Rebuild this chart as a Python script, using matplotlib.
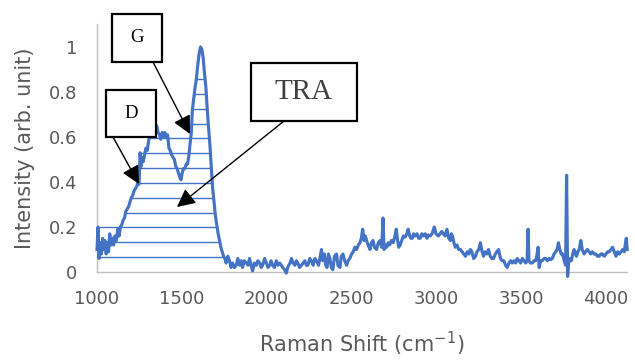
import numpy as np
import matplotlib.pyplot as plt
from matplotlib.patches import Rectangle

BLUE = "#4472C4"; AXIS = "#BFBFBF"; LABEL = "#595959"

# Raman spectrum (normalised)
shift = [1000, 1006, 1012, 1019, 1026, 1033, 1040, 1047, 1054, 1061, 1068, 1075, 1082, 1090, 1098,
         1106, 1114, 1122, 1130, 1138, 1146, 1154, 1162, 1170, 1178, 1186, 1194, 1202, 1210, 1218,
         1226, 1234, 1242, 1248, 1254, 1260, 1266, 1272, 1280, 1288, 1296, 1304, 1312, 1320, 1328,
         1336, 1344, 1352, 1360, 1368, 1376, 1384, 1392, 1400, 1408, 1416, 1424, 1432, 1440, 1448,
         1456, 1464, 1472, 1480, 1488, 1495, 1502, 1510, 1518, 1526, 1534, 1542, 1550, 1556, 1562,
         1570, 1578, 1586, 1594, 1602, 1610, 1618, 1626, 1634, 1642, 1650, 1658, 1666, 1674, 1682,
         1690, 1698, 1706, 1714, 1722, 1730, 1738, 1746, 1754, 1761, 1771, 1781, 1790, 1799, 1810,
         1821, 1830, 1840, 1850, 1858, 1868, 1880, 1890, 1899, 1908, 1917, 1928, 1939, 1948, 1959,
         1968, 1976, 1988, 1998, 2008, 2018, 2026, 2035, 2046, 2057, 2066, 2077, 2086, 2095, 2106,
         2116, 2124, 2130, 2138, 2146, 2156, 2166, 2175, 2183, 2194, 2205, 2215, 2225, 2234, 2243,
         2254, 2264, 2274, 2284, 2294, 2306, 2314, 2323, 2331, 2340, 2348, 2356, 2364, 2373, 2381,
         2390, 2400, 2412, 2420, 2432, 2440, 2450, 2460, 2471, 2480, 2490, 2501, 2510, 2520, 2530,
         2540, 2550, 2558, 2566, 2574, 2582, 2589, 2598, 2609, 2618, 2627, 2636, 2648, 2658, 2669,
         2678, 2686, 2692, 2700, 2708, 2716, 2725, 2735, 2746, 2756, 2764, 2770, 2778, 2787, 2796,
         2806, 2817, 2826, 2834, 2843, 2850, 2858, 2866, 2876, 2886, 2896, 2905, 2915, 2925, 2935,
         2945, 2953, 2964, 2975, 2988, 2998, 3012, 3022, 3032, 3041, 3052, 3063, 3073, 3083, 3089,
         3095, 3104, 3112, 3122, 3132, 3142, 3152, 3162, 3172, 3182, 3192, 3201, 3210, 3220, 3231,
         3240, 3250, 3260, 3270, 3278, 3288, 3298, 3308, 3318, 3328, 3337, 3348, 3357, 3367, 3378,
         3389, 3398, 3408, 3418, 3428, 3438, 3448, 3458, 3468, 3477, 3487, 3497, 3507, 3517, 3527,
         3535, 3541, 3546, 3555, 3566, 3576, 3586, 3594, 3600, 3606, 3615, 3625, 3635, 3645, 3655,
         3665, 3674, 3684, 3694, 3704, 3712, 3720, 3728, 3736, 3744, 3754, 3762, 3768, 3774, 3780,
         3788, 3796, 3804, 3812, 3820, 3826, 3834, 3842, 3852, 3860, 3871, 3880, 3890, 3901, 3910,
         3920, 3930, 3940, 3950, 3960, 3970, 3980, 3990, 4000, 4010, 4019, 4030, 4039, 4049, 4059,
         4069, 4079, 4089, 4099, 4108, 4115, 4120, 4125]
intensity = [0.10, 0.20, 0.06, 0.13, 0.08, 0.15, 0.10, 0.14, 0.08, 0.13, 0.09, 0.17, 0.12, 0.15, 0.12,
             0.16, 0.14, 0.19, 0.16, 0.20, 0.21, 0.23, 0.24, 0.27, 0.28, 0.29, 0.31, 0.33, 0.34, 0.36,
             0.37, 0.38, 0.40, 0.39, 0.53, 0.47, 0.51, 0.49, 0.52, 0.55, 0.54, 0.58, 0.62, 0.60, 0.63,
             0.62, 0.64, 0.65, 0.62, 0.61, 0.59, 0.62, 0.60, 0.62, 0.60, 0.61, 0.55, 0.54, 0.52, 0.51,
             0.50, 0.47, 0.46, 0.44, 0.42, 0.41, 0.44, 0.46, 0.46, 0.48, 0.48, 0.52, 0.58, 0.62, 0.72,
             0.77, 0.82, 0.86, 0.92, 0.97, 1.00, 0.99, 0.95, 0.88, 0.82, 0.72, 0.64, 0.56, 0.46, 0.37,
             0.31, 0.25, 0.21, 0.17, 0.14, 0.11, 0.09, 0.07, 0.06, 0.04, 0.07, 0.05, 0.02, 0.04, 0.02,
             0.03, 0.06, 0.03, 0.05, 0.02, 0.05, 0.04, 0.03, 0.06, 0.03, 0.005, 0.04, 0.03, 0.05, 0.04,
             0.02, 0.03, 0.06, 0.04, 0.02, 0.03, 0.05, 0.03, 0.02, 0.05, 0.03, 0.04, 0.03, 0.02, 0.01,
             -0.005, 0.02, 0.03, 0.04, 0.06, 0.04, 0.03, 0.05, 0.04, 0.02, 0.03, 0.04, 0.05, 0.03, 0.03,
             0.06, 0.05, 0.03, 0.06, 0.05, 0.03, 0.06, 0.10, 0.05, 0.08, 0.03, 0.02, 0.08, 0.06, 0.02,
             0.01, 0.07, 0.08, 0.03, 0.02, 0.07, 0.08, 0.05, 0.03, 0.05, 0.06, 0.08, 0.09, 0.11, 0.10,
             0.12, 0.13, 0.15, 0.19, 0.14, 0.16, 0.14, 0.12, 0.10, 0.13, 0.14, 0.11, 0.10, 0.13, 0.14,
             0.11, 0.24, 0.10, 0.12, 0.11, 0.13, 0.12, 0.14, 0.13, 0.16, 0.19, 0.15, 0.11, 0.12, 0.14,
             0.16, 0.155, 0.17, 0.19, 0.16, 0.15, 0.15, 0.17, 0.16, 0.17, 0.15, 0.15, 0.17, 0.16, 0.17,
             0.15, 0.165, 0.16, 0.17, 0.20, 0.17, 0.16, 0.17, 0.18, 0.17, 0.16, 0.19, 0.15, 0.14, 0.17,
             0.16, 0.13, 0.11, 0.12, 0.10, 0.10, 0.09, 0.08, 0.07, 0.09, 0.08, 0.10, 0.09, 0.06, 0.07,
             0.09, 0.10, 0.13, 0.09, 0.07, 0.09, 0.08, 0.10, 0.07, 0.06, 0.06, 0.08, 0.09, 0.10, 0.06,
             0.05, 0.05, 0.03, 0.02, 0.04, 0.05, 0.04, 0.05, 0.04, 0.06, 0.05, 0.04, 0.06, 0.05, 0.04,
             0.05, 0.19, 0.05, 0.04, 0.04, 0.05, 0.05, 0.08, 0.11, 0.02, 0.05, 0.05, 0.06, 0.06, 0.05,
             0.06, 0.055, 0.06, 0.08, 0.09, 0.10, 0.13, 0.10, 0.08, 0.08, 0.05, 0.03, 0.43, -0.02, 0.04,
             0.06, 0.05, 0.08, 0.10, 0.08, 0.07, 0.09, 0.10, 0.14, 0.10, 0.08, 0.09, 0.10, 0.09, 0.08,
             0.09, 0.08, 0.08, 0.07, 0.07, 0.08, 0.08, 0.07, 0.08, 0.09, 0.09, 0.10, 0.11, 0.09, 0.07,
             0.09, 0.08, 0.09, 0.10, 0.09, 0.13, 0.15, 0.10]

x_ticks = [1000, 1500, 2000, 2500, 3000, 3500, 4000]
y_ticks = [0, 0.2, 0.4, 0.6, 0.8, 1]
y_ticklabels = ["0", "0.2", "0.4", "0.6", "0.8", "1"]

W, H = 635, 361
fig = plt.figure(figsize=(W/100, H/100), dpi=100)
ax = fig.add_axes([97/W, 89/H, 530/W, 247.5/H])

ax.plot(shift, intensity, color=BLUE, lw=2.25, zorder=3, clip_on=False, solid_joinstyle="round")

# horizontal hatching under the D/G band
xs = np.linspace(1000, 1760, 3000)
ys = np.interp(xs, shift, intensity)
for lv in np.arange(1, 14)*0.066:
    inside = xs[ys >= lv]
    if len(inside):
        ax.hlines(lv, inside[0], inside[-1], color=BLUE, lw=1.0, zorder=2)

ax.set_xlim(1000, 4124)
ax.set_ylim(0, 1.1)
ax.set_xticks(x_ticks)
ax.set_yticks(y_ticks)
ax.set_yticklabels(y_ticklabels)
for s in ["top", "right"]:
    ax.spines[s].set_visible(False)
for s in ["left", "bottom"]:
    ax.spines[s].set_color(AXIS)
    ax.spines[s].set_linewidth(1.0)
ax.tick_params(length=0, labelsize=13, labelcolor=LABEL)
ax.tick_params(axis="y", pad=14)
ax.tick_params(axis="x", pad=13)
ax.set_xlabel("Raman Shift (cm$^{\\mathregular{-1}}$)", fontsize=15, color=LABEL, labelpad=16)
ax.set_ylabel("Intensity (arb. unit)", fontsize=15, color=LABEL, labelpad=10)

# labelled boxes with arrows (figure pixel coordinates, origin bottom-left)
def box(x0, y0, x1, y1, text, size, color="black"):
    fig.add_artist(Rectangle((x0/W, 1 - y1/H), (x1 - x0)/W, (y1 - y0)/H, transform=fig.transFigure,
                             facecolor="white", edgecolor="black", lw=1.6, zorder=5))
    fig.text((x0 + x1)/2/W, 1 - (y0 + y1)/2/H, text, ha="center", va="center", fontsize=size,
             family="Liberation Serif", color=color, zorder=6)

def arrow(x0, y0, x1, y1):
    ax.annotate("", xy=(x1, H - y1), xytext=(x0, H - y0), xycoords="figure pixels",
                textcoords="figure pixels", zorder=7,
                arrowprops=dict(arrowstyle="-|>,head_length=1.1,head_width=0.55", color="black",
                                lw=1.0, shrinkA=0, shrinkB=0))

box(112, 14, 162, 62, "G", 13.5)
box(106, 90, 156, 137, "D", 13.5)
box(251, 63, 357, 121, "TRA", 21, color="#404040")
arrow(153, 62, 190, 134)
arrow(113, 137, 139, 184)
arrow(284, 121, 177, 207)

fig.savefig("out.png", dpi=100, facecolor="white")
